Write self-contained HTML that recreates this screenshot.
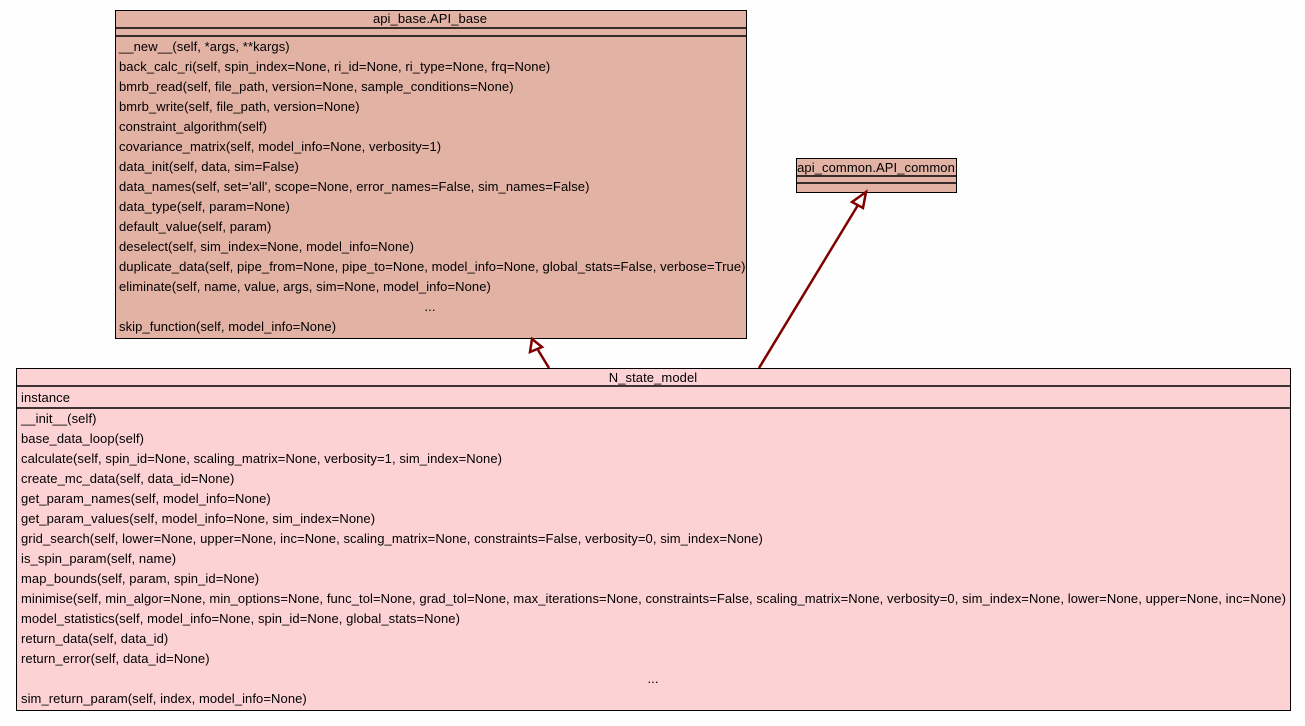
<!DOCTYPE html>
<html><head><meta charset="utf-8"><style>
html,body{margin:0;padding:0;background:#fefefe;}
svg text{font-family:"Liberation Sans",Arial,sans-serif;font-size:13px;letter-spacing:0.08px;fill:#000;}
</style></head><body>
<svg width="1305" height="721" xmlns="http://www.w3.org/2000/svg">
<rect x="0" y="0" width="1305" height="721" fill="#fefefe"/>
<!-- api_base -->
<rect x="115.5" y="10.5" width="631" height="328" fill="#e2b2a5" stroke="#000" stroke-width="1"/>
<line x1="115" y1="28" x2="746" y2="28" stroke="#000" stroke-width="1.5"/>
<line x1="115" y1="36" x2="746" y2="36" stroke="#000" stroke-width="1.5"/>
<text x="430" y="23" text-anchor="middle">api_base.API_base</text>
<g>
<text x="119" y="51">__new__(self, *args, **kargs)</text>
<text x="119" y="71">back_calc_ri(self, spin_index=None, ri_id=None, ri_type=None, frq=None)</text>
<text x="119" y="91">bmrb_read(self, file_path, version=None, sample_conditions=None)</text>
<text x="119" y="111">bmrb_write(self, file_path, version=None)</text>
<text x="119" y="131">constraint_algorithm(self)</text>
<text x="119" y="151">covariance_matrix(self, model_info=None, verbosity=1)</text>
<text x="119" y="171">data_init(self, data, sim=False)</text>
<text x="119" y="191">data_names(self, set='all', scope=None, error_names=False, sim_names=False)</text>
<text x="119" y="211">data_type(self, param=None)</text>
<text x="119" y="231">default_value(self, param)</text>
<text x="119" y="251">deselect(self, sim_index=None, model_info=None)</text>
<text x="119" y="271">duplicate_data(self, pipe_from=None, pipe_to=None, model_info=None, global_stats=False, verbose=True)</text>
<text x="119" y="291">eliminate(self, name, value, args, sim=None, model_info=None)</text>
<text x="430" y="311" text-anchor="middle">...</text>
<text x="119" y="331">skip_function(self, model_info=None)</text>
</g>
<!-- api_common -->
<rect x="796.5" y="158.5" width="160" height="34" fill="#e2b2a5" stroke="#000" stroke-width="1"/>
<line x1="796" y1="176" x2="956" y2="176" stroke="#000" stroke-width="1.5"/>
<line x1="796" y1="183" x2="956" y2="183" stroke="#000" stroke-width="1.5"/>
<text x="876" y="172" text-anchor="middle">api_common.API_common</text>
<!-- N_state_model -->
<rect x="16.5" y="368.5" width="1274" height="342" fill="#fcd2d4" stroke="#000" stroke-width="1"/>
<line x1="16" y1="386" x2="1290" y2="386" stroke="#000" stroke-width="1.5"/>
<line x1="16" y1="408" x2="1290" y2="408" stroke="#000" stroke-width="1.5"/>
<text x="653" y="382" text-anchor="middle">N_state_model</text>
<text x="21" y="402">instance</text>
<g>
<text x="21" y="423">__init__(self)</text>
<text x="21" y="443">base_data_loop(self)</text>
<text x="21" y="463">calculate(self, spin_id=None, scaling_matrix=None, verbosity=1, sim_index=None)</text>
<text x="21" y="483">create_mc_data(self, data_id=None)</text>
<text x="21" y="503">get_param_names(self, model_info=None)</text>
<text x="21" y="523">get_param_values(self, model_info=None, sim_index=None)</text>
<text x="21" y="543">grid_search(self, lower=None, upper=None, inc=None, scaling_matrix=None, constraints=False, verbosity=0, sim_index=None)</text>
<text x="21" y="563">is_spin_param(self, name)</text>
<text x="21" y="583">map_bounds(self, param, spin_id=None)</text>
<text x="21" y="603" textLength="1265" lengthAdjust="spacingAndGlyphs">minimise(self, min_algor=None, min_options=None, func_tol=None, grad_tol=None, max_iterations=None, constraints=False, scaling_matrix=None, verbosity=0, sim_index=None, lower=None, upper=None, inc=None)</text>
<text x="21" y="623">model_statistics(self, model_info=None, spin_id=None, global_stats=None)</text>
<text x="21" y="643">return_data(self, data_id)</text>
<text x="21" y="663">return_error(self, data_id=None)</text>
<text x="653" y="683" text-anchor="middle">...</text>
<text x="21" y="703">sim_return_param(self, index, model_info=None)</text>
</g>
<!-- connectors -->
<g stroke="#800000" stroke-width="2.5" fill="none">
<line x1="549" y1="368" x2="538" y2="350"/>
<polygon points="532,339 530,352 542,347" fill="#fefefe"/>
<line x1="759" y1="368" x2="858" y2="205"/>
<polygon points="866,192 852,202 863,208" fill="#fefefe"/>
</g>
</svg>
</body></html>
